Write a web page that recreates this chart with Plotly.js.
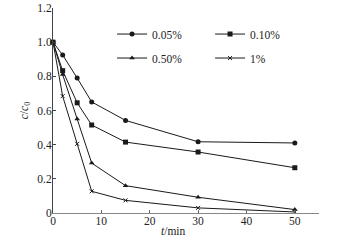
<!DOCTYPE html>
<html><head><meta charset="utf-8">
<script src="https://cdn.plot.ly/plotly-3.0.1.min.js"></script>
<style>html,body{margin:0;padding:0;background:#fff;}#chart{width:337px;height:241px;}</style>
</head><body><div id="chart"></div>
<script>
const timeMin = [0, 2, 5, 8, 15, 30, 50];
const seriesNames = ['0.05%', '0.10%', '0.50%', '1%'];
const conc005 = [1.0, 0.925, 0.79, 0.65, 0.542, 0.417, 0.41];
const conc010 = [1.0, 0.833, 0.645, 0.515, 0.415, 0.357, 0.265];
const conc050 = [1.0, 0.81, 0.55, 0.292, 0.16, 0.092, 0.02];
const conc1 = [1.0, 0.684, 0.405, 0.127, 0.074, 0.03, 0.006];
const yTickVals = [0, 0.2, 0.4, 0.6, 0.8, 1.0, 1.2];
const yTickText = ['0', '0.2', '0.4', '0.6', '0.8', '1.0', '1.2'];
const xTickVals = [0, 10, 20, 30, 40, 50];

const font = {family: 'Liberation Serif, Times New Roman, serif', size: 11.5, color: '#222'};
const lineC = '#1a1a1a';
function tr(y, name, sym, leg) {
  const isX = sym === 'x-thin';
  return {x: timeMin, y: y, name: name, type: 'scatter', mode: 'lines+markers',
    line: {color: lineC, width: 1},
    marker: {symbol: sym, size: isX ? 4 : 5, color: lineC, line: {color: lineC, width: isX ? 1 : 0}},
    legend: leg, cliponaxis: false};
}
const data = [
  tr(conc005, seriesNames[0], 'circle', 'legend'),
  tr(conc010, seriesNames[1], 'square', 'legend'),
  tr(conc050, seriesNames[2], 'triangle-up', 'legend2'),
  tr(conc1, seriesNames[3], 'x-thin', 'legend2')
];
const legBase = {orientation: 'h', x: 0.222, xanchor: 'left', yanchor: 'middle', entrywidth: 53,
  font: font, bgcolor: 'rgba(0,0,0,0)', borderwidth: 0, itemwidth: 30, traceorder: 'normal'};
const layout = {
  width: 337, height: 241,
  margin: {l: 53, r: 18, t: 8, b: 28},
  paper_bgcolor: '#fff', plot_bgcolor: '#fff',
  font: font,
  showlegend: true,
  legend: Object.assign({}, legBase, {y: 0.873}),
  legend2: Object.assign({}, legBase, {y: 0.756}),
  xaxis: {range: [0, 55], tickvals: xTickVals, ticks: 'inside', ticklen: 3, tickcolor: '#666',
    showline: true, linecolor: '#888', linewidth: 1, showgrid: false, zeroline: false,
    ticklabelstandoff: -3, tickfont: font},
  yaxis: {range: [0, 1.2], tickvals: yTickVals, ticktext: yTickText, ticks: 'inside', ticklen: 3, tickcolor: '#444',
    showline: true, linecolor: '#444', linewidth: 1, showgrid: false, zeroline: false,
    ticklabelstandoff: -2, tickfont: font, title: {text: '<i>c</i>/<i>c</i><sub>0</sub>', font: font, standoff: 6}},
  annotations: [{text: '<i>t</i>/min', xref: 'x', yref: 'paper', x: 25, y: 0, yshift: -10, yanchor: 'top',
    showarrow: false, font: font}]
};
Plotly.newPlot('chart', data, layout, {staticPlot: true, displayModeBar: false});
</script></body></html>
